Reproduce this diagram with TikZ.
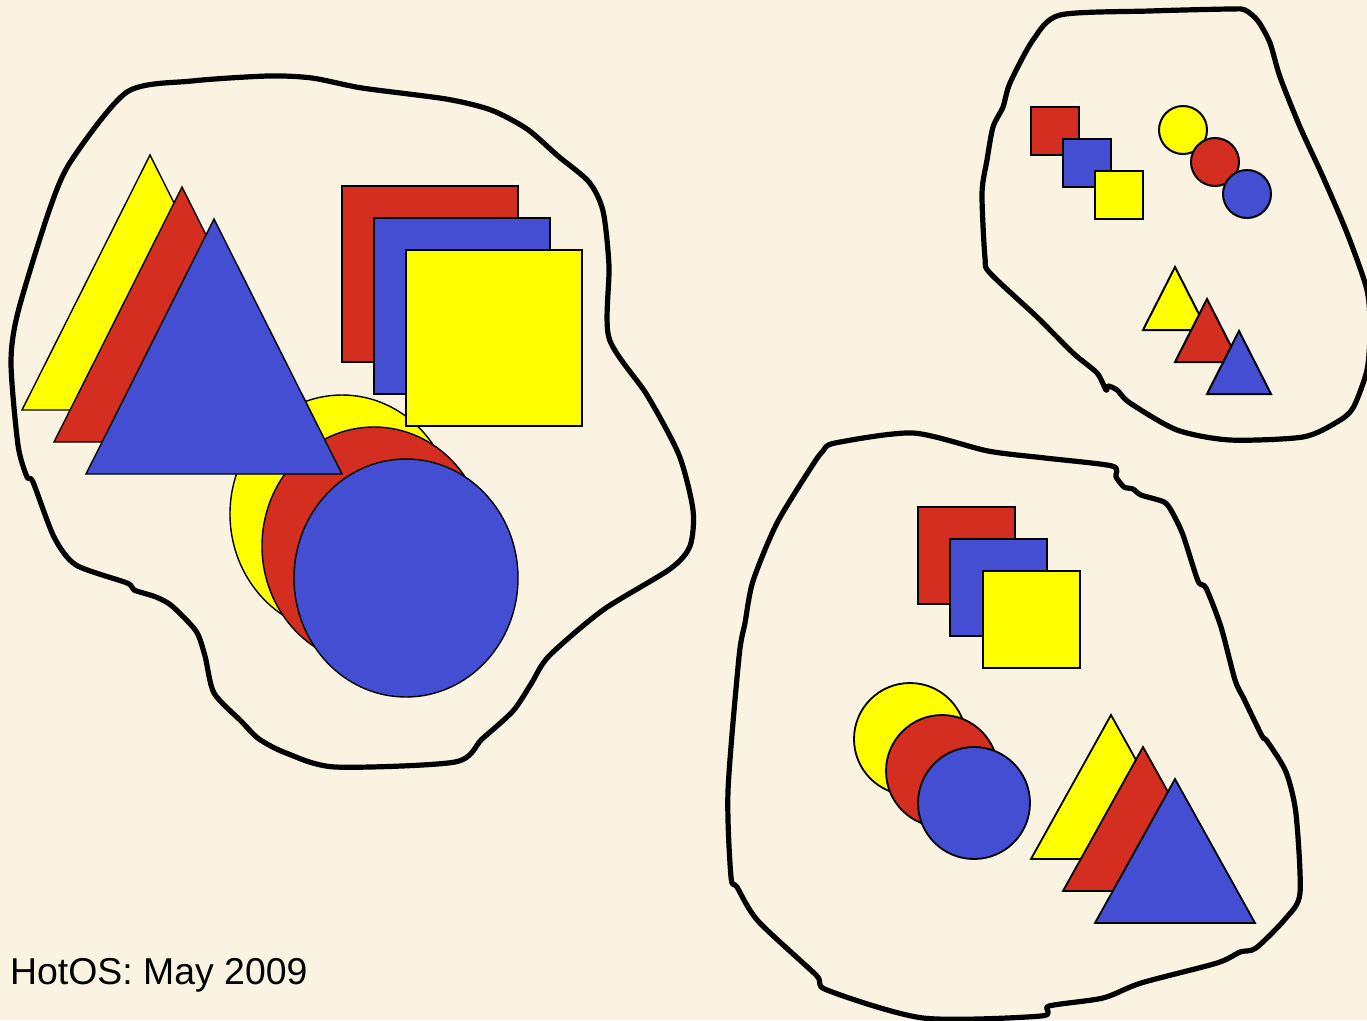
\documentclass[tikz,border=0pt]{standalone}
\usepackage{fontspec}
\setmainfont{Liberation Sans}
\definecolor{bg}{RGB}{251,243,225}
\definecolor{cred}{RGB}{211,46,31}
\definecolor{cblue}{RGB}{67,78,210}
\definecolor{cyel}{RGB}{255,255,0}
\newcommand\mytri[5]{\filldraw[shp,fill=#1] (#2,#3) -- ++(-#4,#5) -- ++(2*#4,0) -- cycle;}
\newcommand\mysq[4]{\filldraw[shp,fill=#1] (#2,#3) rectangle ++(#4,#4);}
\begin{document}
\begin{tikzpicture}[x=1pt,y=-1pt,
  shp/.style={draw=black,line width=1.4pt,line join=miter},
  thk/.style={shp/.append style={line width=2pt}},
  blob/.style={draw=black,line width=5.2pt,line join=round,line cap=round}]
\fill[bg] (0,0) rectangle (1367,1020);
\useasboundingbox (0,0) rectangle (1367,1020);
% ---------- left blob ----------
\draw[blob] plot[smooth cycle,tension=0.45] coordinates {
 (127,92) (192,81) (268,76) (312,78) (362,88) (446,99) (491,110) (527,129)
 (558,156) (589,182) (603,211) (609,266) (609,338) (647,395) (679,455)
 (693,510) (690,546) (670,569) (603,610) (549,656) (531,684) (513,711)
 (482,739) (455,762) (335,767) (286,753) (259,739) (241,721) (214,693)
 (205,656) (196,631) (172,606) (156,597) (134,590) (127,583) (76,565)
 (54,537) (33,482) (27,477) (18,445) (11,363) (18,312) (49,211) (71,161)};
% circles
\filldraw[shp,fill=cyel]  (342,514) ellipse [x radius=112pt, y radius=119pt];
\filldraw[shp,fill=cred]  (374,546) ellipse [x radius=112pt, y radius=119pt];
\filldraw[shp,fill=cblue] (406,578) ellipse [x radius=112pt, y radius=119pt];
% squares
\filldraw[shp,fill=cred]  (342,186) rectangle (518,362);
\filldraw[shp,fill=cblue] (374,218) rectangle (550,394);
\filldraw[shp,fill=cyel]  (406,250) rectangle (582,426);
% triangles
\mytri{cyel}{150}{155}{128}{255}
\mytri{cred}{182}{187}{128}{255}
\mytri{cblue}{214}{219}{128}{255}
% ---------- top right blob ----------
\draw[blob] plot[smooth cycle,tension=0.45] coordinates {
 (1060,15) (1150,11) (1230,9) (1245,10) (1258,21) (1270,43) (1280,77)
 (1300,127) (1323,177) (1347,233) (1367,290) (1370,330) (1367,370)
 (1353,408) (1337,422) (1303,437) (1230,440) (1177,430) (1130,403)
 (1117,390) (1108,386) (1106,390) (1097,373) (1073,353) (1037,317)
 (990,273) (985,258) (982,193) (987,160) (993,127) (1003,107) (1010,83)
 (1033,40)};
\begin{scope}[thk]
\mysq{cred}{1031}{107}{48}
\mysq{cblue}{1063}{139}{48}
\mysq{cyel}{1095}{171}{48}
\filldraw[shp,fill=cyel]  (1183,130) circle [radius=24pt];
\filldraw[shp,fill=cred]  (1215,162) circle [radius=24pt];
\filldraw[shp,fill=cblue] (1247,194) circle [radius=24pt];
\mytri{cyel}{1175}{267}{32}{63}
\mytri{cred}{1207}{299}{32}{63}
\mytri{cblue}{1239}{331}{32}{63}
\end{scope}
% ---------- bottom blob ----------
\draw[blob] plot[smooth cycle,tension=0.45] coordinates {
 (835,443) (913,433) (988,451) (1045,458) (1112,466) (1116,477) (1124,487)
 (1133,489) (1141,495) (1164,502) (1172,512) (1183,535) (1198,581)
 (1206,588) (1221,627) (1235,680) (1244,699) (1262,736) (1267,741)
 (1286,772) (1296,814) (1300,893) (1286,918) (1256,948) (1240,952)
 (1217,963) (1141,983) (1103,998) (1049,1006) (1041,1016) (923,1018)
 (827,990) (816,975) (758,921) (737,887) (731,877) (728,791) (739,657)
 (745,623) (753,581) (777,523) (812,466) (823,451)};
\begin{scope}[shp/.append style={line width=1.8pt}]
\mysq{cred}{918}{507}{97}
\mysq{cblue}{950}{539}{97}
\mysq{cyel}{983}{571}{97}
\filldraw[shp,fill=cyel]  (910,739) circle [radius=56pt];
\filldraw[shp,fill=cred]  (942,771) circle [radius=56pt];
\filldraw[shp,fill=cblue] (974,803) circle [radius=56pt];
\mytri{cyel}{1111}{715}{80}{144}
\mytri{cred}{1143}{747}{80}{144}
\mytri{cblue}{1175}{779}{80}{144}
\end{scope}
% ---------- footer ----------
\node[anchor=base west,inner sep=0pt,font=\fontsize{37.4}{44}\selectfont] (foot) at (10,984) {HotOS: May 2009};
\end{tikzpicture}
\end{document}
